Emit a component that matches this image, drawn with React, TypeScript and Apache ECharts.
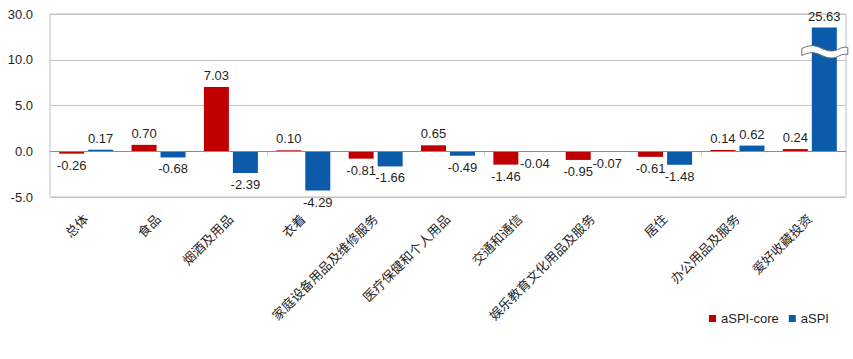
import React, { useEffect, useRef } from 'react';
import * as echarts from 'echarts';

const categories = ['总体', '食品', '烟酒及用品', '衣着', '家庭设备用品及维修服务', '医疗保健和个人用品', '交通和通信', '娱乐教育文化用品及服务', '居住', '办公用品及服务', '爱好收藏投资'];
const aspiCore = [-0.26, 0.70, 7.03, 0.10, -0.81, 0.65, -1.46, -0.95, -0.61, 0.14, 0.24];
const aspi = [0.17, -0.68, -2.39, -4.29, -1.66, -0.49, -0.04, -0.07, -1.48, 0.62, 25.63];
const yTickLabels = ['-5.0', '0.0', '5.0', '10.0', '30.0'];
const seriesNames = ['aSPI-core', 'aSPI'];

// broken axis: above 10 the scale is compressed
const BREAK_AT = 10;
const BREAK_FACTOR = 0.225;
const toDisplay = (v: number) => (v > BREAK_AT ? BREAK_AT + (v - BREAK_AT) * BREAK_FACTOR : v);

const FONT = '"Liberation Sans", Arial, "Noto Sans CJK SC", sans-serif';
const TEXT_COLOR = '#1f1f1f';

echarts.graphic.registerShape(
  'wavebreak',
  echarts.graphic.extendPath(
    'M0,4 C6,1 12,0 18,3 C24,6 30,8 36,5 C40,3 43,2 46,3 L46,10 C43,9 40,10 36,12 C30,15 24,13 18,10 C12,7 6,8 0,11 Z',
    {}
  )
);

function makeSeries(name: string, values: number[], color: string, extra: any = {}) {
  return {
    name,
    type: 'bar',
    barWidth: 25,
    barGap: '16%',
    itemStyle: { color },
    data: values.map((v) => ({
      value: toDisplay(v),
      label: { position: v < 0 ? 'bottom' : 'top' },
    })),
    label: {
      show: true,
      distance: 5,
      fontFamily: FONT,
      fontSize: 13,
      color: TEXT_COLOR,
      formatter: (p: any) => values[p.dataIndex].toFixed(2),
    },
    ...extra,
  };
}

export default function App() {
  const ref = useRef<HTMLDivElement>(null);
  useEffect(() => {
    if (!ref.current) return;
    const chart = echarts.init(ref.current, null, { renderer: 'svg' });
    chart.setOption({
      animation: false,
      backgroundColor: '#ffffff',
      grid: {
        left: 50,
        right: 7,
        top: 14,
        bottom: 162,
        show: true,
        borderColor: '#bfbfbf',
        borderWidth: 1,
      },
      legend: {
        data: seriesNames,
        left: 704,
        top: 307,
        icon: 'rect',
        itemWidth: 7,
        itemHeight: 7,
        itemGap: 10,
        textStyle: { fontFamily: FONT, fontSize: 13, color: TEXT_COLOR },
      },
      xAxis: [
        {
          type: 'category',
          data: categories,
          axisLine: { show: false, onZero: false },
          axisTick: { show: false },
          axisLabel: {
            rotate: 45,
            margin: 20,
            interval: 0,
            fontFamily: FONT,
            fontSize: 13,
            color: TEXT_COLOR,
          },
        },
        {
          type: 'category',
          data: categories,
          position: 'bottom',
          offset: 155,
          axisLine: { show: false },
          axisTick: { show: true, length: 5, lineStyle: { color: '#d6d6d6' } },
          axisLabel: { show: false },
        },
      ],
      yAxis: {
        type: 'value',
        min: -5,
        max: 15,
        interval: 5,
        axisLine: { show: false },
        axisTick: { show: false },
        splitLine: { lineStyle: { color: '#c4c4c4', width: 1 } },
        axisLabel: {
          margin: 17,
          fontFamily: FONT,
          fontSize: 13,
          color: TEXT_COLOR,
          formatter: (v: number) => yTickLabels[Math.round((v + 5) / 5)] ?? '',
        },
      },
      series: [
        makeSeries(seriesNames[0], aspiCore, '#C00000', {
          markLine: {
            silent: true,
            symbol: 'none',
            label: { show: false },
            lineStyle: { color: '#8c8c8c', type: 'solid', width: 1 },
            data: [{ yAxis: 0 }],
          },
        }),
        makeSeries(seriesNames[1], aspi, '#0B5BAA'),
      ],
    });
    const bigIdx = aspi.indexOf(Math.max(...aspi));
    const cx = chart.convertToPixel({ xAxisIndex: 0 }, categories[bigIdx]) as number;
    const cy = chart.convertToPixel({ yAxisIndex: 0 }, 10.9) as number;
    chart.setOption({
      graphic: [
        {
          type: 'wavebreak',
          x: cx + 15 - 23,
          y: cy - 7,
          z: 100,
          style: { fill: '#ffffff', stroke: '#6f6f6f', lineWidth: 1 },
        },
      ],
    });
    return () => chart.dispose();
  }, []);
  return (
    <div
      ref={ref}
      style={{ position: 'fixed', left: 0, top: 0, width: 853, height: 359, background: '#fff' }}
    />
  );
}
